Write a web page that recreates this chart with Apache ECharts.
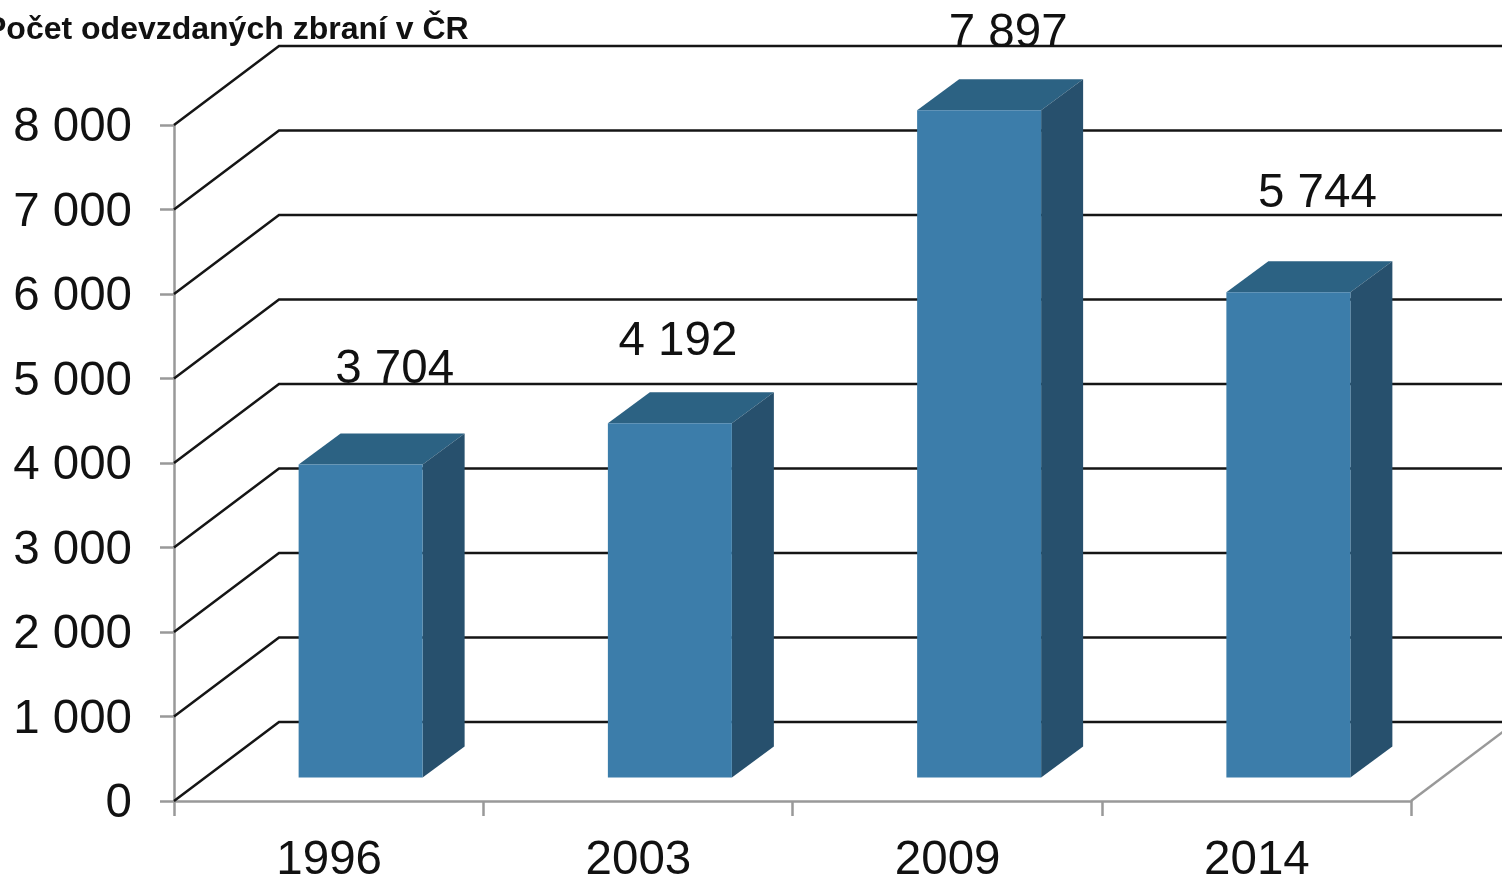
<!DOCTYPE html>
<html>
<head>
<meta charset="utf-8">
<title>Počet odevzdaných zbraní v ČR</title>
<script src="https://cdn.jsdelivr.net/npm/echarts@6/dist/echarts.min.js"></script>
<style>
  html, body { margin: 0; padding: 0; background: #fff; }
  #chart { width: 1502px; height: 876px; }
</style>
</head>
<body>
<div id="chart"></div>
<script>
const titleText = 'Počet odevzdaných zbraní v ČR';
const categories = ['1996', '2003', '2009', '2014'];
const weapons = [3704, 4192, 7897, 5744];
const yTicks = [0, 1000, 2000, 3000, 4000, 5000, 6000, 7000, 8000];

// posun popisku proti hornímu okraji sloupce (v originále je každý jinde)
const labelShift = [[34, -95], [8, -81], [29, -76], [29, -98]];

const fontName = '"Liberation Sans", Arial, sans-serif';
const wallDx = 105, wallDy = -79;   // hloubka zadní stěny
const barInsetX = 32, barInsetY = -23.5; // odsazení sloupce od přední hrany
const barDepthX = 42, barDepthY = -31;
const barWidth = 124;

function spaced(v) {
  return String(v).replace(/\B(?=(\d{3})+$)/g, ' ');
}

const myChart = echarts.init(document.getElementById('chart'), null, { renderer: 'canvas' });

// vodorovné čáry na stěně + šikmé na boku
function renderWall(params, api) {
  const y = api.coord([0, api.value(1)])[1];
  const left = params.coordSys.x;
  return {
    type: 'polyline',
    shape: { points: [[left, y], [left + wallDx, y + wallDy], [api.getWidth(), y + wallDy]] },
    style: { stroke: '#151515', lineWidth: 2.5, fill: null }
  };
}

// pravá hrana podlahy
function renderFloor(params, api) {
  const sys = params.coordSys;
  const right = sys.x + sys.width;
  const bottom = sys.y + sys.height;
  return {
    type: 'line',
    shape: { x1: right, y1: bottom, x2: right + wallDx, y2: bottom + wallDy },
    style: { stroke: '#999', lineWidth: 2.5 }
  };
}

function renderBar(params, api) {
  const idx = api.value(0);
  const val = api.value(1);
  const center = api.coord([idx, val])[0];
  const top = api.coord([idx, val])[1] + barInsetY;
  const bottom = api.coord([idx, 0])[1] + barInsetY;
  const x0 = center + barInsetX - barWidth / 2;
  const x1 = x0 + barWidth;
  const dx = barDepthX, dy = barDepthY;
  const shift = labelShift[params.dataIndex];
  return {
    type: 'group',
    children: [
      {
        type: 'polygon',
        shape: { points: [[x0, top], [x0 + dx, top + dy], [x1 + dx, top + dy], [x1, top]] },
        style: { fill: '#2c6283' }
      },
      {
        type: 'polygon',
        shape: { points: [[x1, top], [x1 + dx, top + dy], [x1 + dx, bottom + dy], [x1, bottom]] },
        style: { fill: '#27506d' }
      },
      {
        type: 'rect',
        shape: { x: x0, y: top, width: barWidth, height: bottom - top },
        style: { fill: '#3c7daa' }
      },
      {
        type: 'text',
        style: {
          text: spaced(val),
          x: (x0 + x1) / 2 + shift[0],
          y: top + shift[1],
          align: 'center',
          verticalAlign: 'middle',
          fontFamily: fontName,
          fontSize: 47.5,
          fill: '#111'
        }
      }
    ]
  };
}

const option = {
  animation: false,
  backgroundColor: '#fff',
  title: {
    text: titleText,
    left: -20,
    top: 9,
    textStyle: { fontFamily: fontName, fontSize: 32, fontWeight: 'bold', color: '#111' }
  },
  grid: { left: 174, top: 125, width: 1237, height: 676, outerBoundsMode: 'none' },
  xAxis: {
    type: 'category',
    data: categories,
    boundaryGap: true,
    axisLine: { lineStyle: { color: '#999', width: 2.5 } },
    axisTick: { show: true, alignWithLabel: false, length: 15, lineStyle: { color: '#999', width: 2.5 } },
    axisLabel: { margin: 36, padding: [0, 0, 0, 1], fontFamily: fontName, fontSize: 47.5, color: '#111', lineHeight: 48 }
  },
  yAxis: {
    type: 'value',
    min: 0,
    max: 8000,
    interval: 1000,
    splitLine: { show: false },
    axisLine: { show: true, lineStyle: { color: '#999', width: 2.5 } },
    axisTick: { show: true, length: 14, lineStyle: { color: '#999', width: 2.5 } },
    axisLabel: {
      margin: 42,
      verticalAlign: 'top',
      lineHeight: 6, // popisky sedí o 3 px níž než tick
      fontFamily: fontName,
      fontSize: 47.5,
      color: '#111',
      formatter: spaced
    }
  },
  series: [
    { type: 'custom', z: 1, renderItem: renderWall, data: yTicks.map(v => [0, v]), silent: true },
    { type: 'custom', z: 1, renderItem: renderFloor, data: [[0, 0]], silent: true },
    { type: 'custom', z: 3, renderItem: renderBar, data: categories.map((c, i) => [i, weapons[i]]), silent: true }
  ]
};
myChart.setOption(option);
</script>
</body>
</html>
